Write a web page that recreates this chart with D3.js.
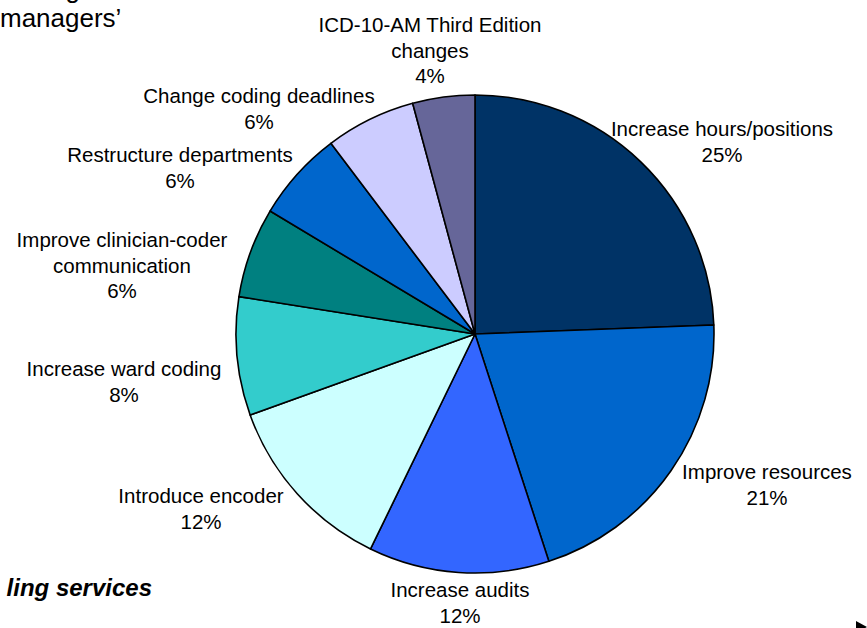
<!DOCTYPE html>
<html>
<head>
<meta charset="utf-8">
<script src="https://cdn.jsdelivr.net/npm/d3@7"></script>
<style>
  html, body { margin: 0; padding: 0; background: #ffffff; }
  svg { display: block; font-family: "Liberation Sans", Arial, sans-serif; }
</style>
</head>
<body>
<svg id="chart" width="867" height="628"></svg>
<script>
// ---- data ----
const categories = [
  "Increase hours/positions",
  "Improve resources",
  "Increase audits",
  "Introduce encoder",
  "Increase ward coding",
  "Improve clinician-coder communication",
  "Restructure departments",
  "Change coding deadlines",
  "ICD-10-AM Third Edition changes"
];
const values = [24.4, 20.6, 12.2, 12.3, 8.0, 6.1, 6.1, 6.1, 4.2];
const percentLabels = ["25%", "21%", "12%", "12%", "8%", "6%", "6%", "6%", "4%"];
const labelLines = [
  ["Increase hours/positions"],
  ["Improve resources"],
  ["Increase audits"],
  ["Introduce encoder"],
  ["Increase ward coding"],
  ["Improve clinician-coder", "communication"],
  ["Restructure departments"],
  ["Change coding deadlines"],
  ["ICD-10-AM Third Edition", "changes"]
];
const colors = ["#003366", "#0066CC", "#3366FF", "#CCFFFF", "#33CCCC",
                "#008080", "#0066CC", "#CCCCFF", "#666699"];

// ---- layout ----
const cx = 475, cy = 334, radius = 239;
const labelAnchors = [
  [722, 136], [767, 479], [460, 597], [201, 503], [124, 376],
  [122, 247], [180, 162], [259, 103], [430, 32]
];
const lineHeight = 25.5;
const fontSize = 20.5;

const svg = d3.select("#chart");

const pie = d3.pie().sort(null).value(d => d);
const arcs = pie(values);
const arc = d3.arc().innerRadius(0).outerRadius(radius);

const g = svg.append("g").attr("transform", `translate(${cx},${cy})`);
g.selectAll("path.slice")
  .data(arcs)
  .join("path")
  .attr("class", "slice")
  .attr("d", arc)
  .attr("fill", (d, i) => colors[i])
  .attr("stroke", "#000")
  .attr("stroke-width", 1.6)
  .attr("stroke-linejoin", "round");

// labels
const lg = svg.append("g");
categories.forEach((c, i) => {
  const [x, y] = labelAnchors[i];
  const t = lg.append("text")
    .attr("x", x).attr("y", y)
    .attr("text-anchor", "middle")
    .attr("font-size", fontSize)
    .attr("fill", "#000");
  const lines = labelLines[i].concat([percentLabels[i]]);
  lines.forEach((ln, k) => {
    t.append("tspan").attr("x", x).attr("y", y + k * lineHeight).text(ln);
  });
});

// cropped slide text around the chart
svg.append("text").attr("x", 80).attr("y", -2).attr("text-anchor", "end")
  .attr("font-size", 26).text("coding");
svg.append("text").attr("x", 0).attr("y", 27)
  .attr("font-size", 26).text("managers\u2019");
svg.append("text").attr("x", 152).attr("y", 596).attr("text-anchor", "end")
  .attr("font-size", 24).attr("font-weight", "bold").attr("font-style", "italic")
  .text("ling services");
svg.append("path")
  .attr("d", "M856,621 L867,627 L856,633 Z")
  .attr("fill", "#000");
</script>
</body>
</html>
